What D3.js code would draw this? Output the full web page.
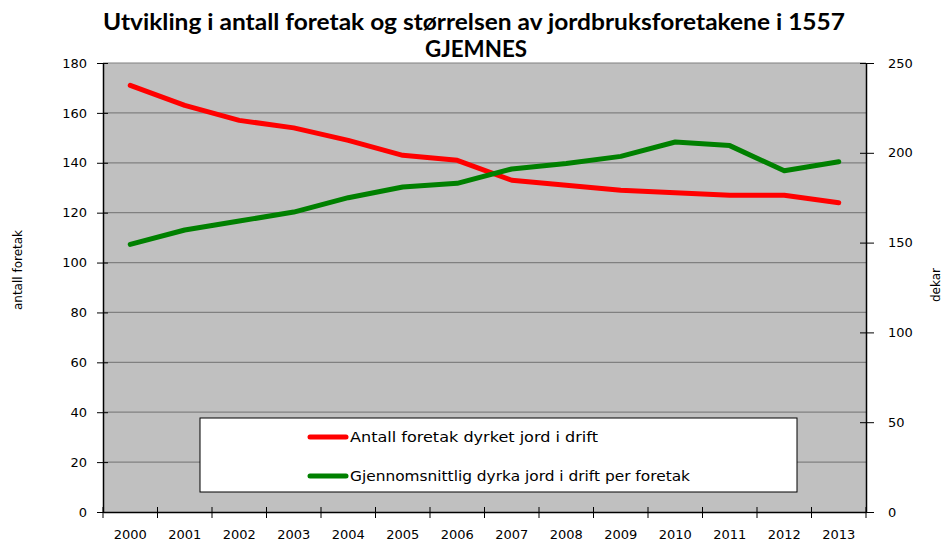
<!DOCTYPE html>
<html>
<head>
<meta charset="utf-8">
<script src="https://cdn.jsdelivr.net/npm/d3@7"></script>
<style>
  body { margin: 0; background: #fff; }
  text { font-family: "DejaVu Sans", Verdana, sans-serif; }
</style>
</head>
<body>
<div class="vis"></div>
<script>
const years = ["2000", "2001", "2002", "2003", "2004", "2005", "2006", "2007", "2008", "2009", "2010", "2011", "2012", "2013"];
const foretak = [171, 163, 157, 154, 149, 143, 141, 133, 131, 129, 128, 127, 127, 124];
const dekar = [149, 157, 162, 167, 175, 181, 183, 191, 194, 198, 206, 204, 190, 195];
const leftTicks = [0, 20, 40, 60, 80, 100, 120, 140, 160, 180];
const rightTicks = [0, 50, 100, 150, 200, 250];
const seriesNames = ["Antall foretak dyrket jord i drift", "Gjennomsnittlig dyrka jord i drift per foretak"];

const width = 946, height = 541;
const margin = { top: 63, right: 80, bottom: 29, left: 103 };
const iw = width - margin.left - margin.right;
const ih = height - margin.top - margin.bottom;

const svg = d3.select(".vis").append("svg")
  .attr("width", width)
  .attr("height", height);

// title
svg.append("text")
  .attr("x", 474).attr("y", 30)
  .attr("text-anchor", "middle")
  .style("font-family", "Lato, 'Open Sans', sans-serif")
  .style("font-weight", "bold")
  .style("font-size", "23px")
  .attr("textLength", 742)
  .attr("lengthAdjust", "spacingAndGlyphs")
  .text("Utvikling i antall foretak og størrelsen av jordbruksforetakene i 1557");
svg.append("text")
  .attr("x", 476).attr("y", 57)
  .attr("text-anchor", "middle")
  .style("font-family", "Lato, 'Open Sans', sans-serif")
  .style("font-weight", "bold")
  .style("font-size", "23px")
  .attr("textLength", 102)
  .attr("lengthAdjust", "spacingAndGlyphs")
  .text("GJEMNES");

const g = svg.append("g").attr("transform", `translate(${margin.left},${margin.top})`);

const x = d3.scaleBand().domain(years).range([0, iw]);
const yL = d3.scaleLinear().domain([0, 180]).range([ih, 0]);
const yR = d3.scaleLinear().domain([0, 250]).range([ih, 0]);

g.append("rect")
  .attr("width", iw).attr("height", ih)
  .attr("fill", "#c0c0c0");

// gridlines
g.selectAll(".grid").data(leftTicks.filter(d => d > 0)).enter()
  .append("line")
  .attr("x1", 0).attr("x2", iw)
  .attr("y1", d => yL(d)).attr("y2", d => yL(d))
  .attr("stroke", "#808080").attr("stroke-width", 1.2);

// legend box (behind lines)
const leg = g.append("g");
leg.append("rect")
  .attr("x", 200 - margin.left).attr("y", 418 - margin.top)
  .attr("width", 597).attr("height", 74)
  .attr("fill", "#fff").attr("stroke", "#000").attr("stroke-width", 1);

const lineL = d3.line().x((d, i) => x(years[i]) + x.bandwidth() / 2).y(d => yL(d));
const lineR = d3.line().x((d, i) => x(years[i]) + x.bandwidth() / 2).y(d => yR(d));

g.append("path").datum(foretak)
  .attr("d", lineL).attr("fill", "none")
  .attr("stroke", "#ff0000").attr("stroke-width", 5).attr("stroke-linejoin", "round").attr("stroke-linecap", "round");
g.append("path").datum(dekar)
  .attr("d", lineR).attr("fill", "none")
  .attr("stroke", "#008000").attr("stroke-width", 5).attr("stroke-linejoin", "round").attr("stroke-linecap", "round");

// axes
const axisL = g.append("g").call(d3.axisLeft(yL).tickValues(leftTicks).tickSizeInner(6).tickSizeOuter(0).tickPadding(10));
axisL.selectAll(".tick line").attr("x2", 5).attr("x1", -6);
const axisR = g.append("g").attr("transform", `translate(${iw},0)`)
  .call(d3.axisRight(yR).tickValues(rightTicks).tickSizeInner(8).tickSizeOuter(0).tickPadding(14));
axisR.selectAll(".tick line").attr("x1", -6).attr("x2", 8);
const xTicks = years.map(d => x(d)).concat([iw]);
const axisX = g.append("g").attr("transform", `translate(0,${ih})`)
  .call(d3.axisBottom(x).tickSize(0).tickPadding(18));
axisX.append("g").selectAll("line").data(xTicks).enter()
  .append("line")
  .attr("x1", d => d).attr("x2", d => d)
  .attr("y1", -5).attr("y2", 6)
  .attr("stroke", "#000");

[axisL, axisR, axisX].forEach(a => {
  a.select(".domain").attr("stroke", "#000").attr("stroke-width", 1.5);
  a.selectAll(".tick line").attr("stroke", "#000");
  a.selectAll("text").style("font-size", "13px").attr("fill", "#000");
});

// axis titles
svg.append("text")
  .attr("transform", "translate(22,270) rotate(-90)")
  .attr("text-anchor", "middle")
  .style("font-size", "12px")
  .text("antall foretak");
svg.append("text")
  .attr("transform", "translate(940,285) rotate(-90)")
  .attr("text-anchor", "middle")
  .style("font-size", "12px")
  .text("dekar");

// legend entries
const legColors = ["#ff0000", "#008000"];
const legY = [437, 476];
const legLen = [248, 340];
seriesNames.forEach((name, i) => {
  svg.append("line")
    .attr("x1", 310).attr("x2", 346)
    .attr("y1", legY[i]).attr("y2", legY[i])
    .attr("stroke", legColors[i]).attr("stroke-width", 5).attr("stroke-linecap", "round");
  svg.append("text")
    .attr("x", 350).attr("y", legY[i] + 5)
    .style("font-size", "14px")
    .attr("textLength", legLen[i])
    .attr("lengthAdjust", "spacingAndGlyphs")
    .text(name);
});
</script>
</body>
</html>
